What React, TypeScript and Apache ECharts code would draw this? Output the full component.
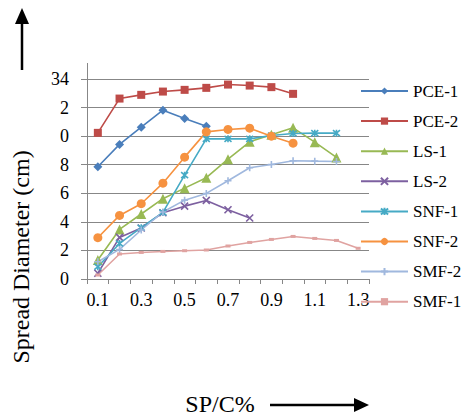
import React, { useEffect, useRef } from "react";
import * as echarts from "echarts";

const categories = ["0.1", "0.2", "0.3", "0.4", "0.5", "0.6", "0.7", "0.8", "0.9", "1", "1.1", "1.2", "1.3"];
const categoryLabels = ["0.1", "", "0.3", "", "0.5", "", "0.7", "", "0.9", "", "1.1", "", "1.3"];

const pce1 = [27.86, 29.42, 30.63, 31.82, 31.24, 30.7, null, null, null, null, null, null, null];
const pce2 = [30.23, 32.63, 32.89, 33.12, 33.24, 33.38, 33.61, 33.54, 33.43, 32.96, null, null, null];
const ls1 = [21.33, 23.47, 24.55, 25.62, 26.36, 27.09, 28.39, 29.6, 30.09, 30.58, 29.58, 28.51, null];
const ls2 = [20.4, 22.91, 23.57, 24.64, 25.1, 25.5, 24.85, 24.27, null, null, null, null, null];
const snf1 = [20.86, 22.49, 23.59, 24.66, 27.27, 29.81, 29.81, 29.81, 30.05, 30.19, 30.21, 30.21, null];
const snf2 = [22.89, 24.45, 25.27, 26.71, 28.53, 30.3, 30.47, 30.56, 30.0, 29.51, null, null, null];
const smf2 = [21.21, 22.07, 23.43, 24.69, 25.52, 25.99, 26.88, 27.79, 28.02, 28.28, 28.25, 28.23, null];
const smf1 = [20.28, 21.75, 21.86, 21.93, 21.98, 22.03, 22.31, 22.56, 22.77, 22.98, 22.84, 22.7, 22.15];

const yMin = 20;
const yMax = 34;
const yInterval = 2;

const FONT = '"Liberation Serif", "Times New Roman", serif';

const X_PATH = "path://M0,0L10,10M10,0L0,10";
const STAR_PATH = "path://M0,0L10,10M10,0L0,10M5,-1L5,11";
const PLUS_PATH = "path://M5,0L5,10M0,5L10,5";

export default function App() {
  const ref = useRef<HTMLDivElement>(null);

  useEffect(() => {
    if (!ref.current) return;
    const chart = echarts.init(ref.current, undefined, { renderer: "svg" });

    const mk = (name: string, data: (number | null)[], color: string, symbol: string, size: any, stroke = false) => ({
      name,
      type: "line",
      data,
      symbol,
      symbolSize: size,
      showSymbol: true,
      connectNulls: false,
      lineStyle: { color, width: 1.6 },
      itemStyle: stroke
        ? { color: color, borderColor: color, borderWidth: 1.6 }
        : { color: color, borderWidth: 0 },
      emphasis: { disabled: true },
    });

    const series = [
      mk("PCE-1", pce1, "#4a7ebb", "diamond", 9),
      mk("PCE-2", pce2, "#be4b48", "rect", 8),
      mk("LS-1", ls1, "#98b954", "triangle", 10),
      mk("LS-2", ls2, "#7d60a0", X_PATH, 7, true),
      mk("SNF-1", snf1, "#46aac5", STAR_PATH, 7, true),
      mk("SNF-2", snf2, "#f69240", "circle", 9),
      mk("SMF-2", smf2, "#a0b8de", PLUS_PATH, 7, true),
      mk("SMF-1", smf1, "#e0a3a1", "rect", [5, 3]),
    ];

    chart.setOption({
      animation: false,
      textStyle: { fontFamily: FONT },
      grid: { left: 87, top: 79, width: 282, height: 200, containLabel: false },
      legend: {
        orient: "vertical",
        left: 360,
        top: 82.5,
        padding: 0,
        itemWidth: 47,
        itemHeight: 9,
        itemGap: 13.1,
        textStyle: { fontFamily: FONT, fontSize: 17, color: "#000" },
        data: series.map((s) => s.name),
      },
      xAxis: {
        type: "category",
        data: categories,
        boundaryGap: true,
        axisLine: { lineStyle: { color: "#878787", width: 1 } },
        axisTick: { show: true, interval: 0, length: 5, lineStyle: { color: "#878787" } },
        axisLabel: {
          interval: 0,
          margin: 12,
          fontFamily: FONT,
          fontSize: 18,
          color: "#000",
          formatter: (_v: string, i: number) => categoryLabels[i],
        },
        splitLine: { show: false },
      },
      yAxis: {
        type: "value",
        min: yMin,
        max: yMax,
        interval: yInterval,
        axisLine: { show: true, lineStyle: { color: "#878787", width: 1 } },
        axisTick: { show: true, length: 6, lineStyle: { color: "#878787" } },
        axisLabel: {
          margin: 18,
          fontFamily: FONT,
          fontSize: 18,
          color: "#000",
          formatter: (v: number) => (v === yMax ? String(v) : String(v % 10)),
        },
        splitLine: { show: true, lineStyle: { color: "#878787", width: 1 } },
      },
      graphic: [
        { type: "line", shape: { x1: 87.5, y1: 63, x2: 87.5, y2: 79 }, style: { stroke: "#878787", lineWidth: 1 } },
        { type: "line", shape: { x1: 22, y1: 70, x2: 22, y2: 22 }, style: { stroke: "#000", lineWidth: 2.5 } },
        { type: "polygon", shape: { points: [[22, 8], [15, 24], [29, 24]] }, style: { fill: "#000" } },
        {
          type: "text",
          x: 21,
          y: 257,
          rotation: Math.PI / 2,
          style: {
            text: "Spread Diameter (cm)",
            fontFamily: FONT,
            fontSize: 24,
            fill: "#000",
            align: "center",
            verticalAlign: "middle",
          },
        },
        {
          type: "text",
          x: 220,
          y: 404,
          style: {
            text: "SP/C%",
            fontFamily: FONT,
            fontSize: 24,
            fill: "#000",
            align: "center",
            verticalAlign: "middle",
          },
        },
        { type: "line", shape: { x1: 270, y1: 405, x2: 357, y2: 405 }, style: { stroke: "#000", lineWidth: 2.5 } },
        { type: "polygon", shape: { points: [[369, 405], [354, 398], [354, 412]] }, style: { fill: "#000" } },
      ],
      series,
    });

    return () => chart.dispose();
  }, []);

  return (
    <div
      ref={ref}
      style={{ position: "absolute", left: 0, top: 0, width: 466, height: 416, background: "#fff" }}
    />
  );
}
